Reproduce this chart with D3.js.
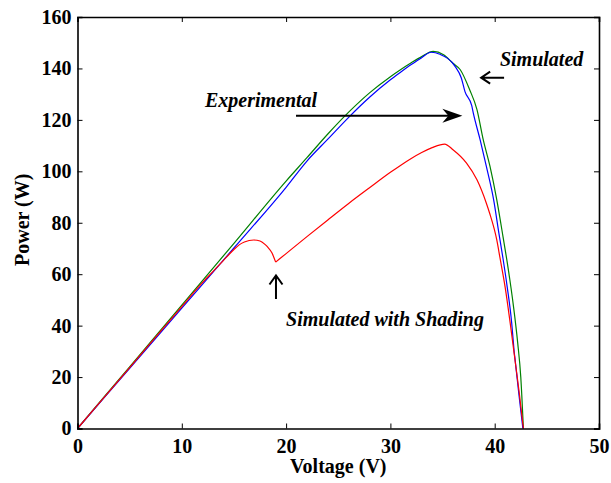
<!DOCTYPE html>
<html>
<head>
<meta charset="utf-8">
<script src="https://cdn.jsdelivr.net/npm/d3@7"></script>
<style>
  body { margin: 0; background: #fff; }
  svg text { font-family: "Liberation Serif", "Times New Roman", serif; font-weight: bold; }
</style>
</head>
<body>
<svg id="chart"></svg>
<script>
// ---- data ----
var simV = [0, 5, 10, 15, 20, 22, 24, 26, 28, 30, 31, 32, 33, 34.1, 35.1, 36, 36.7, 37.6, 38.3, 38.9, 39.55, 40.2, 40.8, 41.3, 41.8, 42.2, 42.5, 42.75];
var simP = [0, 24, 48, 72, 96.2, 105.3, 114.5, 123, 130.5, 136.8, 139.6, 142.2, 144.6, 146.6, 145.3, 142.0, 139.5, 131.7, 124.0, 112.3, 101.9, 88.9, 74.5, 62.0, 47.5, 33.5, 20.0, 0];

var expV = [0, 5, 10, 15, 20, 22, 24, 26, 28, 30, 31, 32, 33, 33.9, 34.75, 36.2, 36.8, 37.15, 37.8, 37.95, 38.6, 39.2, 39.9, 40.4, 40.8, 41.2, 41.63, 41.8, 41.85, 41.95, 42.3, 42.7];
var expP = [0, 23.4, 46.8, 70.2, 93.8, 104.0, 112.5, 121.0, 128.8, 135.6, 138.6, 141.5, 144.2, 146.3, 145.5, 140.8, 136.3, 131.0, 125.5, 122.6, 112.3, 101.9, 88.9, 76.0, 66.0, 55.0, 41.0, 33.0, 30.5, 27.0, 14.0, 0];

var shadeV = [0, 5, 10, 12, 13, 14, 15, 15.5, 16, 16.9, 17.5, 18, 18.2, 18.65, 19, 20, 22, 24, 26, 28, 30, 31, 32, 33, 34, 35.2, 36, 37.3, 38.3, 39.2, 39.5, 40.2, 40.5, 41, 41.6, 42, 42.35, 42.75];
var shadeP = [0, 23.7, 47.4, 56.8, 61.1, 65.4, 69.6, 71.4, 72.5, 73.3, 72.9, 71.5, 70.7, 68.2, 64.7, 68.0, 74.6, 81.1, 87.5, 93.6, 99.6, 102.4, 105.0, 107.3, 109.2, 110.6, 108.4, 103.2, 96.7, 87.6, 83.9, 73.3, 66.5, 55.0, 37.5, 25.0, 14.0, 0];
var shadeCusp = 14; // index of the sharp dip in the shaded curve

var xTicks = [0, 10, 20, 30, 40, 50];
var yTicks = [0, 20, 40, 60, 80, 100, 120, 140, 160];

var width = 611,
    height = 483,
    margin = {top: 17, right: 12, bottom: 54.5, left: 77.5};

let zip = (vs, ps) => vs.map((v, i) => ({v: v, p: ps[i]}));

let shadePts = zip(shadeV, shadeP);

// the shaded curve is drawn in two pieces so the dip stays a sharp corner
let series = [
    {color: "#008000", pts: zip(simV, simP)},
    {color: "#0000ff", pts: zip(expV, expP)},
    {color: "#ff0000", pts: shadePts.slice(0, shadeCusp + 1)},
    {color: "#ff0000", pts: shadePts.slice(shadeCusp)},
];

let svg = d3.select("#chart")
    .attr("width", width)
    .attr("height", height);

let x = d3.scaleLinear()
    .domain([0, 50])
    .range([margin.left, width - margin.right]);

let y = d3.scaleLinear()
    .domain([0, 160])
    .range([height - margin.bottom, margin.top]);

let line = d3.line()
    .curve(d3.curveMonotoneX)
    .x(d => x(d.v))
    .y(d => y(d.p));

// curves
svg.append("g")
    .attr("fill", "none")
    .attr("stroke-width", 1.2)
    .selectAll("path")
    .data(series)
    .join("path")
    .attr("stroke", d => d.color)
    .attr("d", d => line(d.pts));

// axes, ticks pointing inward on all four sides
svg.append("g")
    .attr("transform", `translate(0, ${y(0)})`)
    .call(d3.axisBottom(x).tickValues(xTicks).tickFormat(d3.format("d")).tickSize(-5).tickPadding(10));

svg.append("g")
    .attr("transform", `translate(0, ${y(160)})`)
    .call(d3.axisTop(x).tickValues(xTicks).tickFormat("").tickSize(-5));

svg.append("g")
    .attr("transform", `translate(${x(0)}, 0)`)
    .call(d3.axisLeft(y).tickValues(yTicks).tickFormat(d3.format("d")).tickSize(-5).tickPadding(6));

svg.append("g")
    .attr("transform", `translate(${x(50)}, 0)`)
    .call(d3.axisRight(y).tickValues(yTicks).tickFormat("").tickSize(-5));

svg.selectAll(".domain").attr("stroke-width", 1.6);
svg.selectAll(".tick line").attr("stroke-width", 1);
svg.selectAll(".tick text")
    .attr("font-size", 20)
    .attr("font-family", "Liberation Serif")
    .attr("font-weight", "bold")
    .attr("fill", "#000");

// axis labels
svg.append("text")
    .attr("transform", `translate(${(x(0) + x(50)) / 2}, ${height - 10})`)
    .style("text-anchor", "middle")
    .attr("font-size", 20)
    .text("Voltage (V)");

svg.append("text")
    .attr("transform", `rotate(-90) translate(${-(y(0) + y(160)) / 2 + 3}, 29)`)
    .style("text-anchor", "middle")
    .attr("font-size", 20)
    .text("Power (W)");

// annotations (placed in data units)
let notes = svg.append("g").attr("font-size", 20).attr("font-style", "italic");

notes.append("text").attr("x", x(40.5)).attr("y", y(141.1)).text("Simulated");
notes.append("text").attr("x", x(12.22)).attr("y", y(125.1)).text("Experimental");
notes.append("text").attr("x", x(20)).attr("y", y(40)).text("Simulated with Shading");

let arrows = svg.append("g")
    .attr("stroke", "#000")
    .attr("stroke-width", 2)
    .attr("fill", "none");

// left-pointing arrow next to "Simulated"
let ax = x(38.7), ay = y(136.4);
arrows.append("path")
    .attr("d", `M${ax},${ay}H${x(40.9)}M${ax + 9},${ay - 6}L${ax},${ay}L${ax + 9},${ay + 6}`);

// long arrow from "Experimental"
let ex0 = x(20.95), ex1 = x(36.9), ey = y(121.6);
arrows.append("path")
    .attr("d", `M${ex0},${ey}H${ex1 - 10}`);
svg.append("path")
    .attr("fill", "#000")
    .attr("d", `M${ex1},${ey}L${ex1 - 20},${ey - 7}L${ex1 - 14},${ey}L${ex1 - 20},${ey + 7}Z`);

// up arrow under the shading cusp
let ux = x(19.03), uy = y(59.5);
arrows.append("path")
    .attr("d", `M${ux},${uy}V${y(50.4)}M${ux - 6.5},${uy + 9}L${ux},${uy}L${ux + 6.5},${uy + 9}`);
</script>
</body>
</html>
